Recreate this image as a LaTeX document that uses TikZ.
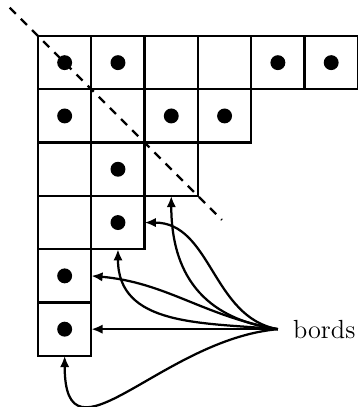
\documentclass[tikz,border=0pt]{standalone}
\usepackage{fontspec}
\usetikzlibrary{arrows.meta}
\begin{document}
\begin{tikzpicture}[
  cell/.style={draw, line width=1.2pt, minimum size=1cm, inner sep=0pt, outer sep=0pt},
  pt/.style={fill=black},
  arr/.style={line width=1.2pt, -{Latex[length=6pt,width=5pt]}},
  diag/.style={line width=1.2pt, dash pattern=on 4.6pt off 3.8pt}
]
\useasboundingbox (-0.713,0.675) rectangle (6.0,-6.96);
\foreach \c in {1,...,6} \node[cell] (c1\c) at (\c-0.5,-0.5) {};
\foreach \c in {1,...,4} \node[cell] (c2\c) at (\c-0.5,-1.5) {};
\foreach \c in {1,...,3} \node[cell] (c3\c) at (\c-0.5,-2.5) {};
\foreach \c in {1,2} \node[cell] (c4\c) at (\c-0.5,-3.5) {};
\node[cell] (c51) at (0.5,-4.5) {};
\node[cell] (c61) at (0.5,-5.5) {};
\foreach \n in {c11,c12,c15,c16,c21,c23,c24,c32,c42,c51,c61}
  \fill[pt] (\n) circle[radius=0.14];
\coordinate (d1) at (-0.53,0.53);
\coordinate (d2) at (3.45,-3.45);
\draw[diag] (d1) -- (d2);
\node[anchor=west, inner xsep=0.28cm, inner ysep=0pt, font=\fontsize{14}{17}\selectfont] (bords) at (4.5,-5.5) {bords};
\draw[arr] (bords.west) -- (c61.east);
\draw[arr] (bords.west) to[out=170,in=-5] (c51.east);
\draw[arr] (bords.west) to[out=175,in=-90,looseness=1.1] (c42.south);
\draw[arr] (bords.west) to[out=170,in=0] (c42.east);
\draw[arr] (bords.west) to[out=172,in=-90,looseness=1.15] (c33.south);
\draw[arr] (bords.west) to[out=185,in=-90,looseness=1.4] (c61.south);
\end{tikzpicture}
\end{document}
